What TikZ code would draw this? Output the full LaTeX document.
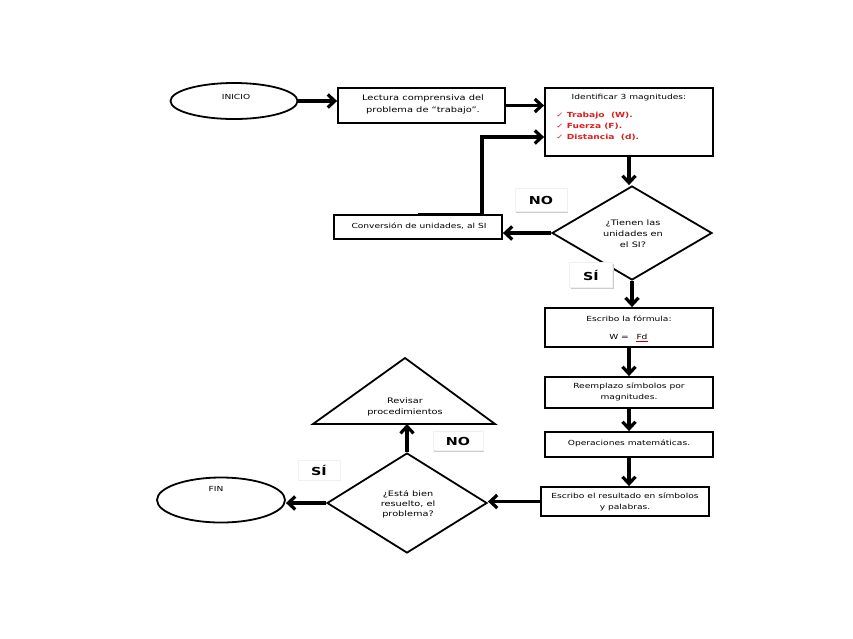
\documentclass[tikz,border=0pt]{standalone}
\usepackage{fontspec}
\newfontfamily\df{DejaVu Sans}[FakeStretch=1.3]
\usetikzlibrary{shapes.geometric,arrows.meta,shadows}
\definecolor{chk}{RGB}{225,30,30}
\begin{document}
\begin{tikzpicture}[x=1pt,y=-1pt,
  txt/.style={font=\df\fontsize{7}{11.5}\selectfont, inner sep=0pt, align=center},
  txtb/.style={font=\df\fontsize{7.5}{11}\selectfont, inner sep=0pt, align=center},
  box/.style={draw, line width=1.8pt, inner sep=0pt},
  ell/.style={ellipse, draw, line width=1.8pt, inner sep=0pt},
  dia/.style={diamond, draw, line width=1.8pt, inner sep=0pt},
  lab/.style={fill=white, draw=gray!12, line width=0.6pt,
    drop shadow={shadow xshift=1.3pt, shadow yshift=-1.3pt, fill=gray!40, opacity=1},
    font=\df\bfseries\fontsize{11}{12}\selectfont, inner sep=0pt},
  conn/.style={line width=3.2pt, -{Straight Barb[length=7pt,width=13pt]}},
  redt/.style={font=\df\bfseries\fontsize{7}{8.5}\selectfont, text=chk, inner sep=0pt, anchor=west},
]
\useasboundingbox[fill=white] (0,0) rectangle (853,638);

% shapes
\node[ell, minimum width=127pt, minimum height=36pt] (inicio) at (234,101) {};
\node[txt] (inicioT) at (236,97) {INICIO};

\node[box, minimum width=167pt, minimum height=35pt] (lect) at (421.5,105.5) {};
\node[txt, font=\df\fontsize{7.6}{12}\selectfont] (lectT) at (423,104) {Lectura comprensiva del\\problema de “trabajo”.};

\node[box, minimum width=168pt, minimum height=68pt] (ident) at (629,122) {};
\node[txt] (identT) at (629,98) {Identificar 3 magnitudes:};
\node[redt] (c1) at (556,115.5) {✓\hspace{3pt}Trabajo\ \ (W).};
\node[redt] (c2) at (556,126.5) {✓\hspace{3pt}Fuerza (F).};
\node[redt] (c3) at (556,137) {✓\hspace{3pt}Distancia\ \ (d).};

\node[box, minimum width=168pt, minimum height=24pt] (conv) at (418,227) {};
\node[txt] (convT) at (419,226) {Conversión de unidades, al SI};

\node[dia, minimum width=160pt, minimum height=94pt] (d1) at (632,233) {};
\node[txtb] (d1T) at (633,234) {¿Tienen las\\unidades en\\el SI?};

\node[lab, minimum width=52pt, minimum height=23pt] (no1) at (541,200) {NO};
\node[lab, minimum width=43pt, minimum height=25pt] (si1) at (591,275) {SÍ};

\node[box, minimum width=168pt, minimum height=39pt] (form) at (629,327.5) {};
\node[txt] (formT) at (629,319) {Escribo la fórmula:};
\node[txt] (formW) at (619,337) {W =};
\node[txt] (fd) at (642,337) {Fd};
\draw[red!75!black, line width=0.6pt] ([yshift=-1.2pt]fd.south west) -- ([yshift=-1.2pt]fd.south east);

\node[box, minimum width=168pt, minimum height=31pt] (reem) at (629,392.5) {};
\node[txt] (reemT) at (629,392) {Reemplazo símbolos por\\magnitudes.};

\node[box, minimum width=168pt, minimum height=25pt] (oper) at (629,444.5) {};
\node[txt] (operT) at (629,443) {Operaciones matemáticas.};

\node[box, minimum width=168pt, minimum height=29pt] (res) at (625,501.5) {};
\node[txt] (resT) at (625,502) {Escribo el resultado en símbolos\\y palabras.};

\node[dia, minimum width=160pt, minimum height=100pt] (d2) at (407,503) {};
\node[txtb, font=\df\fontsize{7.5}{10}\selectfont] (d2T) at (408,504) {¿Está bien\\resuelto, el\\problema?};

\draw[line width=1.8pt, line join=miter] (405,358) -- (495,424) -- (313,424) -- cycle;
\coordinate (trib) at (407,424);
\node[txtb] (revT) at (405,407) {Revisar\\procedimientos};

\node[lab, minimum width=50pt, minimum height=19pt] (no2) at (458,441) {NO};
\node[lab, minimum width=42pt, minimum height=20pt] (si2) at (319,470) {SÍ};

\node[ell, minimum width=128pt, minimum height=45pt] (fin) at (221,500) {};
\node[txt] (finT) at (216,489) {FIN};

% connectors
\coordinate (fb) at (482,137);
\draw[conn] (inicio.east) -- (inicio.east -| lect.west);
\draw[conn] (lect.east) -- (lect.east -| ident.west);
\draw[conn] (conv.north) -- (conv.north -| fb) -- (fb) -- (fb -| ident.west);
\draw[conn] (ident.south) -- (ident.south |- d1.north);
\draw[conn] (d1.west) -- (d1.west -| conv.east);
\draw[conn] (d1.south) -- (d1.south |- form.north);
\draw[conn] (form.south) -- (reem.north);
\draw[conn] (reem.south) -- (oper.north);
\draw[conn] (oper.south) -- (oper.south |- res.north);
\draw[conn] (res.west) -- (res.west -| d2.east);
\draw[conn] (d2.north) -- (d2.north |- trib);
\draw[conn] (d2.west) -- (d2.west -| fin.east);
\end{tikzpicture}
\end{document}
